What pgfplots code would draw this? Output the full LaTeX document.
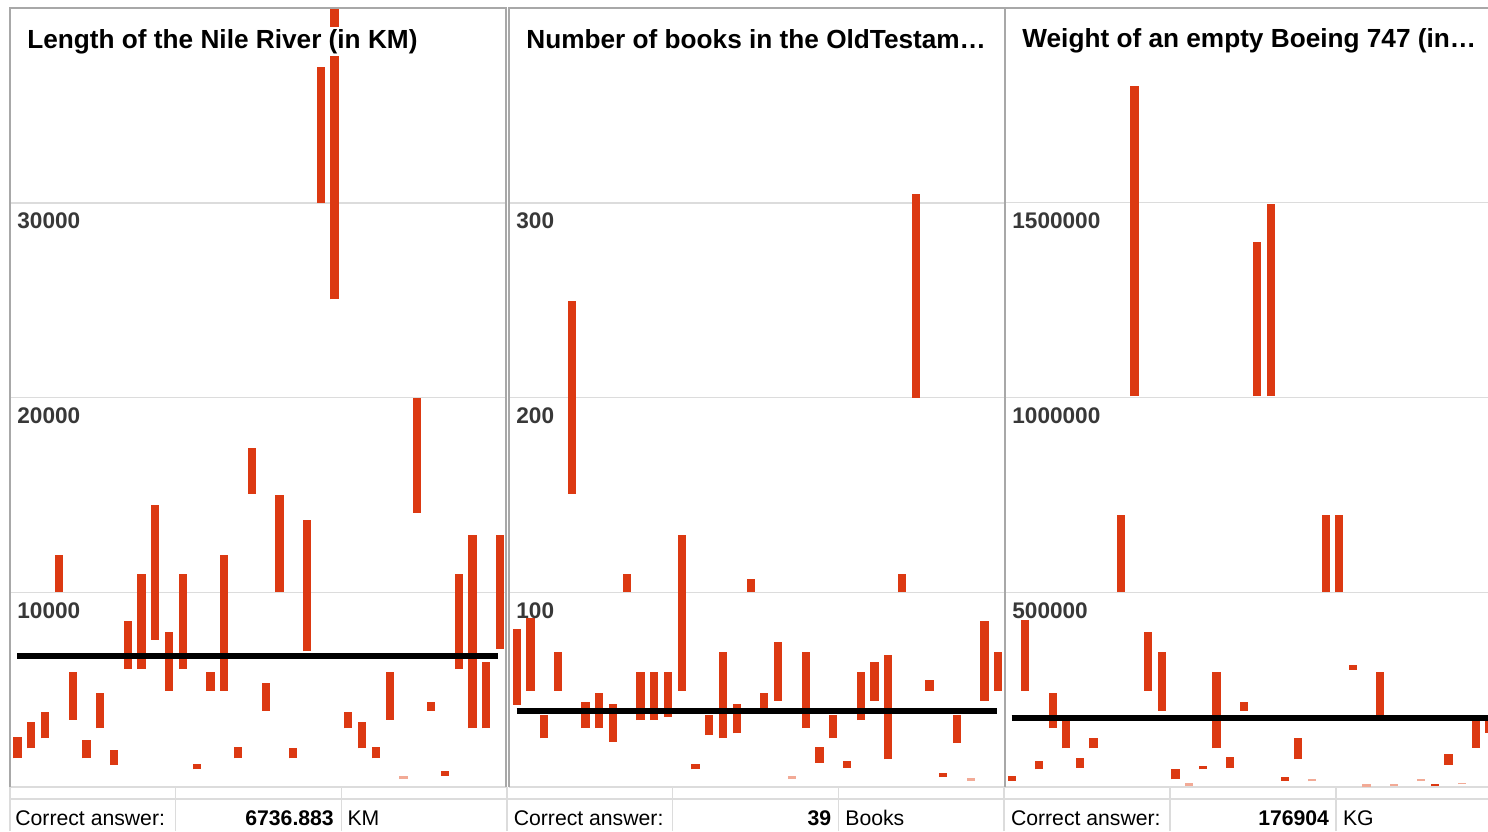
\documentclass[border=0pt]{standalone}
\usepackage{pgfplots}
\pgfplotsset{compat=1.18}
\usepackage{pgfplotstable}
\usepackage{fontspec}
\setmainfont{Liberation Sans}
\definecolor{barred}{HTML}{DC3912}
\definecolor{barpale}{HTML}{F2AA96}
\definecolor{gridc}{HTML}{DCDCDC}
\definecolor{framec}{HTML}{A8A8A8}
\definecolor{tickc}{HTML}{383838}

\pgfplotstableread{
k lo hi
0 1474 2587
1 1988 3358
2 2502 3840
3 10009 11928
4 3445 5929
5 1474 2416
6 3016 4850
7 1131 1902
8 6050 8500
9 6050 10934
10 7558 14463
11 4953 7951
12 6050 10934
13 908 1183
14 4953 5929
15 4953 11928
16 1474 2073
17 15064 17412
18 3925 5365
19 10009 14979
20 1474 1988
21 6958 13728
22 30010 36950
23 25039 40000
24 3016 3840
25 1988 3358
26 1474 2073
27 3445 5929
29 14072 20000
30 3925 4353
31 583 823
32 6050 10934
33 3016 12956
34 3016 6444
35 7078 12956
}\nileA
\pgfplotstableread{
k lo hi
28 400 560
}\nileB

\pgfplotstableread{
k lo hi
0 42.2 81.2
1 49.5 86.7
2 25.0 37.0
3 49.5 69.2
4 150.6 249.5
5 30.2 43.5
6 30.2 48.5
7 23.3 42.7
8 100.1 109.3
9 34.4 59.3
10 34.4 59.3
11 36.2 59.3
12 49.5 129.6
13 9.1 11.8
14 26.7 37.0
15 25.0 69.2
16 27.6 42.7
17 100.1 106.8
18 39.2 48.5
19 44.4 74.7
21 30.2 69.2
22 12.5 20.7
23 25.0 37.0
24 9.9 13.4
25 34.4 59.3
26 44.4 64.4
27 14.2 67.9
28 100.1 109.3
29 200.0 304.4
30 49.5 54.7
31 5.3 7.0
32 22.5 37.0
34 44.4 85.0
35 49.5 69.2
}\bookA
\pgfplotstableread{
k lo hi
20 4.0 5.7
33 3.2 4.5
}\bookB

\pgfplotstableread{
k lo hi
0 16196 28278
1 247560 429307
2 45500 66838
3 150900 242400
4 99480 172237
5 49614 75320
6 99480 125190
8 500520 697440
9 1003300 1798700
10 247560 397700
11 196150 346300
12 19800 45500
14 45500 53980
15 99480 296400
16 49614 77890
17 196150 217740
18 1003300 1399300
19 1003300 1496150
20 16196 24930
21 71200 125190
23 500520 697440
24 500520 697440
25 300770 313600
27 180700 296400
31 2570 7700
32 56500 84000
34 101000 169700
35 139600 185100
}\boeingA
\pgfplotstableread{
k lo hi
13 2570 11054
22 14650 19800
26 0 7000
28 2570 7700
30 15400 19800
33 6940 11054
}\boeingB

\pgfplotsset{
  panel/.style={scale only axis, width=248pt, height=389.5pt, anchor=south west,
    ymin=0, axis line style={draw=none}, tick style={draw=none},
    xtick=\empty, yticklabels={}, ymajorgrids,
    grid style={draw=gridc, line width=0.75pt}, clip=false},
  rangebars/.style={draw=none, mark=none, forget plot,
    error bars/.cd, y dir=plus, y explicit, error mark=none,
    error bar style={draw=#1, line width=4.1pt, line cap=butt}},
}
\tikzset{
  tlab/.style={anchor=base west, xshift=3.5pt, yshift=-13pt, inner sep=0pt,
    font=\bfseries\fontsize{11.3}{13}\selectfont, text=tickc},
  ttl/.style={anchor=base west, fill=white, inner sep=1pt, xshift=7.5pt, yshift=-20pt,
    font=\bfseries\fontsize{13.1}{15}\selectfont, text=black},
  answerline/.style={black, line width=2.8pt},
}

\begin{document}
\begin{tikzpicture}
\path[use as bounding box] (0,0) rectangle (744pt,415.5pt);
\clip (0,0) rectangle (744pt,415.5pt);

% ---------- Panel 1 ----------
\begin{axis}[panel, at={(5pt,22pt)}, xmin=-0.544, xmax=35.435, ymax=40000,
  ytick={0,10000,20000,30000}]
\addplot[rangebars=barred] table[x=k, y=lo, y error plus expr=\thisrow{hi}-\thisrow{lo}] {\nileA};
\addplot[rangebars=barpale] table[x=k, y=lo, y error plus expr=\thisrow{hi}-\thisrow{lo}] {\nileB};
\addplot[answerline, forget plot] coordinates {(0,6736.883) (34.85,6736.883)};
\draw[framec, line width=0.7pt] (rel axis cs:0,0) -- (rel axis cs:0,1) -- (rel axis cs:1,1) -- (rel axis cs:1,0);
\node[tlab] at (axis cs:-0.544,10000) {10000};
\node[tlab] at (axis cs:-0.544,20000) {20000};
\node[tlab] at (axis cs:-0.544,30000) {30000};
\node[ttl] at (rel axis cs:0,1) {Length of the Nile River (in KM)};
\end{axis}

% ---------- Panel 2 ----------
\begin{axis}[panel, at={(254.5pt,22pt)}, xmin=-0.56, xmax=35.49, ymax=400,
  ytick={0,100,200,300}]
\addplot[rangebars=barred] table[x=k, y=lo, y error plus expr=\thisrow{hi}-\thisrow{lo}] {\bookA};
\addplot[rangebars=barpale] table[x=k, y=lo, y error plus expr=\thisrow{hi}-\thisrow{lo}] {\bookB};
\addplot[answerline, forget plot] coordinates {(0,39) (34.9,39)};
\draw[framec, line width=0.7pt] (rel axis cs:0,0) -- (rel axis cs:0,1) -- (rel axis cs:1,1) -- (rel axis cs:1,0);
\node[tlab] at (axis cs:-0.56,100) {100};
\node[tlab] at (axis cs:-0.56,200) {200};
\node[tlab] at (axis cs:-0.56,300) {300};
\node[ttl] at (rel axis cs:0,1) {Number of books in the OldTestam…};
\end{axis}

% ---------- Panel 3 ----------
\begin{axis}[panel, at={(502.5pt,22pt)}, xmin=-0.49, xmax=35.85, ymax=2000000,
  ytick={0,500000,1000000,1500000}]
\addplot[rangebars=barred] table[x=k, y=lo, y error plus expr=\thisrow{hi}-\thisrow{lo}] {\boeingA};
\addplot[rangebars=barpale] table[x=k, y=lo, y error plus expr=\thisrow{hi}-\thisrow{lo}] {\boeingB};
\addplot[answerline, forget plot] coordinates {(0,176904) (35.5,176904)};
\draw[framec, line width=0.7pt] (rel axis cs:0,0) -- (rel axis cs:0,1) -- (rel axis cs:1,1) -- (rel axis cs:1,0);
\node[tlab] at (axis cs:-0.49,500000) {500000};
\node[tlab] at (axis cs:-0.49,1000000) {1000000};
\node[tlab] at (axis cs:-0.49,1500000) {1500000};
\node[ttl] at (rel axis cs:0,1) {Weight of an empty Boeing 747 (in…};
\end{axis}

% ---------- answer table ----------
\draw[gridc, line width=0.75pt] (5pt,16pt) -- (744pt,16pt);
\foreach \xx in {5,87.8,170.7,253.5,336.3,419.2,502,585,668}
  \draw[gridc, line width=0.75pt] (\xx pt,0) -- (\xx pt,22pt);
\begin{scope}[every node/.style={inner sep=0pt, font=\fontsize{10.6}{12}\selectfont, text=black}]
\node[anchor=base west] at (7.5pt,3pt) {Correct answer:};
\node[anchor=base east, font=\bfseries\fontsize{10.6}{12}\selectfont] at (167.1pt,3pt) {6736.883};
\node[anchor=base west] at (173.6pt,3pt) {KM};
\node[anchor=base west] at (256.7pt,3pt) {Correct answer:};
\node[anchor=base east, font=\bfseries\fontsize{10.6}{12}\selectfont] at (415.8pt,3pt) {39};
\node[anchor=base west] at (422.5pt,3pt) {Books};
\node[anchor=base west] at (505.3pt,3pt) {Correct answer:};
\node[anchor=base east, font=\bfseries\fontsize{10.6}{12}\selectfont] at (664.7pt,3pt) {176904};
\node[anchor=base west] at (671.3pt,3pt) {KG};
\end{scope}
\end{tikzpicture}
\end{document}
